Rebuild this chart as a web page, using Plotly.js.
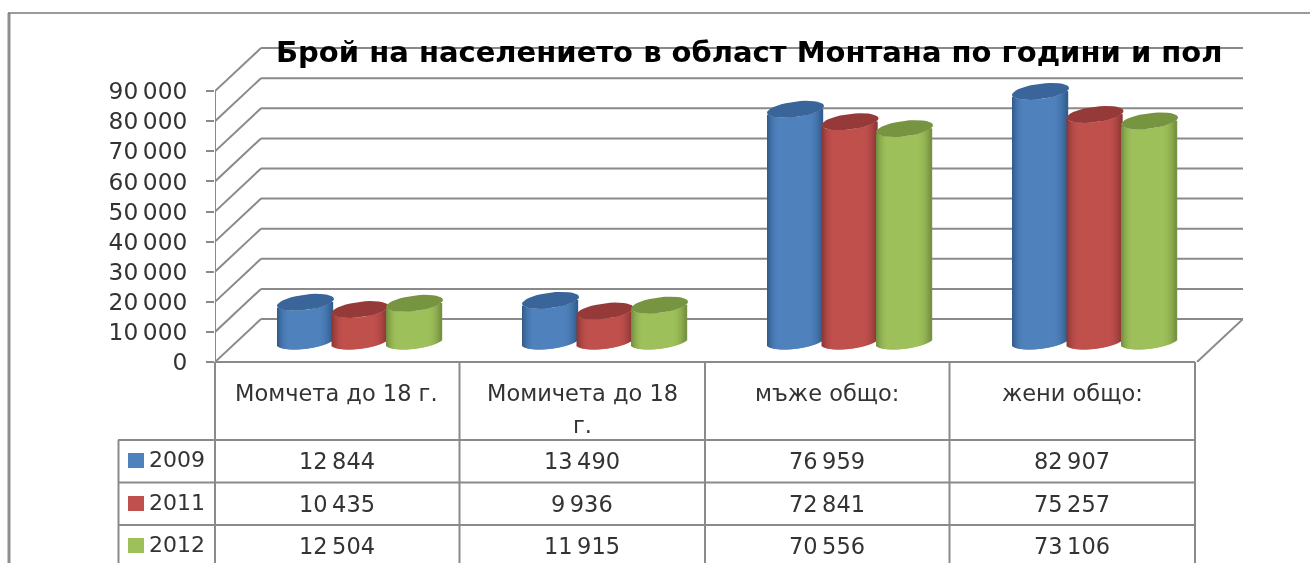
<!DOCTYPE html>
<html><head><meta charset="utf-8">
<script src="https://cdn.plot.ly/plotly-3.0.1.min.js"></script>
<style>html,body{margin:0;padding:0;background:#fff;overflow:hidden}#chart{width:1310px;height:563px;filter:blur(0.6px)}</style>
</head><body><div id="chart"></div>
<script>
const titleText = 'Брой на населението в област Монтана по години и пол';
const categories = ['Момчета до 18 г.', 'Момичета до 18<br>г.', 'мъже общо:', 'жени общо:'];
const years = ['2009', '2011', '2012'];
const values2009 = [12844, 13490, 76959, 82907];
const values2011 = [10435, 9936, 72841, 75257];
const values2012 = [12504, 11915, 70556, 73106];
const tickValues = [0, 10000, 20000, 30000, 40000, 50000, 60000, 70000, 80000, 90000];

const seriesValues = [values2009, values2011, values2012];
const bodyColors = [[79,129,189],[192,80,77],[158,192,90]];
const edgeColors = [[44,84,130],[128,50,48],[108,134,58]];
const capColors = ['#39659a','#953a38','#779440'];

const W = 1310, H = 563;
const L = 215, R = 1243, T = 47, B = 362;
const pxPerCat = 245, pxPerTen = 30.1;
const xu = 1 / pxPerCat, yu = 10000 / pxPerTen;
const depthX = 46, depthY = 43;
const fmt = v => String(v).replace(/\B(?=(\d{3})+$)/g, '\u2009');
const px = x => (x - L) / (R - L);
const py = y => (B - y) / (B - T);

// cylinder geometry (pixels, converted to axis units)
const a = 28.5, b = 7.8, k = 3.4, baseLift = 21, seriesStep = 54.5, firstCentre = 90.5;

const bars = [], caps = [];
seriesValues.forEach((vals, s) => {
  const xs = [], ys = [], bases = [], cols = [];
  const cx_ = [], cy_ = [];
  vals.forEach((v, c) => {
    const cx = c + (firstCentre + s * seriesStep) * xu;
    for (let u = -a + 1.1; u <= a - 1.1; u += 1) {
      const f = u / a, lower = b * Math.sqrt(Math.max(0, 1 - f * f));
      xs.push(cx + u * xu);
      ys.push(v);
      bases.push((baseLift + k * f - lower) * yu);
      const af = Math.abs(f);
      const edge = f < 0 ? 0.55 : 0.45;
      let t = Math.max(0, (af - edge) / (1 - edge));
      t = t * t;
      const mix = bodyColors[s].map((m, i) => Math.round(m + (edgeColors[s][i] - m) * t));
      cols.push('rgb(' + mix.join(',') + ')');
    }
    for (let d = 0; d <= 360; d += 10) {
      const r = d * Math.PI / 180;
      cx_.push(cx + a * Math.cos(r) * xu);
      cy_.push(v + (baseLift + k * Math.cos(r) + b * Math.sin(r)) * yu);
    }
    cx_.push(null); cy_.push(null);
  });
  bars.push({type:'bar', name:years[s], x:xs, y:ys, base:bases, width:2.2 * xu,
    marker:{color:cols, line:{width:0}}, hoverinfo:'skip', showlegend:false});
  caps.push({type:'scatter', mode:'lines', x:cx_, y:cy_, fill:'toself', fillcolor:capColors[s],
    line:{width:0, color:capColors[s]}, hoverinfo:'skip', showlegend:false});
});

const gray = '#8a8a8a';
const lineW = 2;
const shapes = [];
const addPaper = (x0,y0,x1,y1,w,c) => shapes.push({type:'line', xref:'paper', yref:'paper',
  x0:px(x0), y0:py(y0), x1:px(x1), y1:py(y1), line:{color:c||gray, width:w||lineW}, layer:'below'});

// walls: side diagonal + back line for every tick
const rightCat = (R - L - depthX) * xu;
tickValues.forEach(v => {
  const bx = depthX * xu, by = v + depthY * yu;
  shapes.push({type:'line', xref:'x', yref:'y', x0:0, y0:v, x1:bx, y1:by, line:{color:gray, width:lineW}, layer:'below'});
  shapes.push({type:'line', xref:'x', yref:'y', x0:bx, y0:by, x1:rightCat + bx, y1:by, line:{color:gray, width:lineW}, layer:'below'});
});
shapes.push({type:'line', xref:'x', yref:'y', x0:0, y0:0, x1:0, y1:tickValues[tickValues.length-1], line:{color:gray, width:lineW}, layer:'below'});
shapes.push({type:'line', xref:'x', yref:'y', x0:rightCat, y0:0, x1:rightCat + depthX * xu, y1:depthY * yu, line:{color:gray, width:lineW}, layer:'below'});

// frame
addPaper(9, 13, 9, H + 2, 3, '#8f8f8f');
addPaper(8, 13, W + 2, 13, 1.5, '#7a7a7a');

// data table
const colEdges = [215, 459.5, 705, 949.5, 1195];
colEdges.forEach(x => addPaper(x, 362, x, H + 2));
addPaper(215, 362, 1195, 362);
addPaper(118, 440, 1195, 440);
addPaper(118, 482.5, 1195, 482.5);
addPaper(118, 525, 1195, 525);
addPaper(118.5, 440, 118.5, H + 2);

const annotations = [];
const textFont = {family:'"DejaVu Sans", sans-serif', size:22.5, color:'#333333'};
const addText = (x, y, text, anchor, font) => annotations.push({xref:'paper', yref:'paper', x:px(x), y:py(y),
  text, showarrow:false, xanchor:anchor || 'center', yanchor:'middle', font:font || textFont, borderpad:0});

addText(749, 52, titleText, 'center', {family:'"DejaVu Sans", sans-serif', size:29, color:'#000', weight:700});

categories.forEach((c, i) => {
  const cx = (colEdges[i] + colEdges[i + 1]) / 2 + (i === 0 ? -1 : 0);
  c.split('<br>').forEach((part, j) => addText(cx, 393 + j * 32, part));
});
const rowCentres = [461, 504, 546];
seriesValues.forEach((vals, s) => {
  addText(148, rowCentres[s] - 2, years[s], 'left', {family:'"DejaVu Sans", sans-serif', size:22, color:'#333333'});
  const col = 'rgb(' + bodyColors[s].join(',') + ')';
  shapes.push({type:'rect', xref:'paper', yref:'paper', x0:px(128), x1:px(144), y0:py(rowCentres[s] + 7), y1:py(rowCentres[s] - 8),
    fillcolor:col, line:{width:0}, layer:'below'});
  vals.forEach((v, c) => addText((colEdges[c] + colEdges[c + 1]) / 2, rowCentres[s], fmt(v)));
});

const layout = {
  width:W, height:H, margin:{l:L, r:W - R, t:T, b:H - B, pad:0},
  paper_bgcolor:'#fff', plot_bgcolor:'rgba(0,0,0,0)', barmode:'overlay', showlegend:false, hovermode:false,
  xaxis:{range:[0, (R - L) * xu], visible:false, fixedrange:true},
  yaxis:{range:[0, (B - T) * yu], tickmode:'array', tickvals:tickValues, ticktext:tickValues.map(fmt),
    ticks:'outside', ticklen:8, tickwidth:2, tickcolor:gray, showgrid:false, zeroline:false, showline:false,
    ticklabelstandoff:14, tickfont:{family:'"DejaVu Sans", sans-serif', size:23.3, color:'#333333'}, fixedrange:true},
  shapes, annotations
};
Plotly.newPlot('chart', bars.concat(caps), layout, {displayModeBar:false, staticPlot:true});
</script></body></html>
